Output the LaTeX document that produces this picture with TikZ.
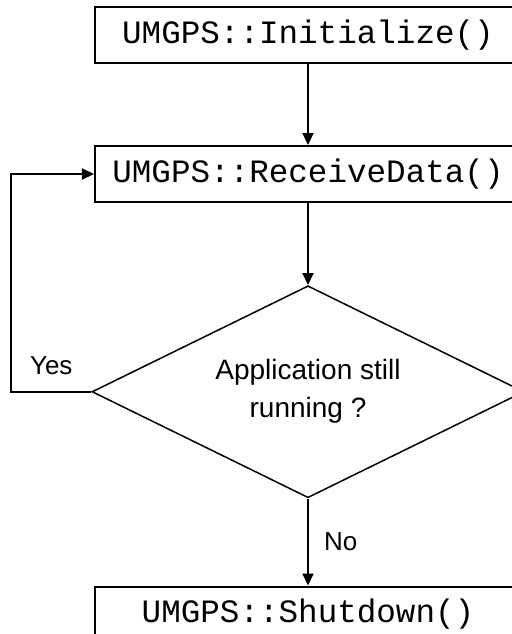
\documentclass[tikz,border=0pt]{standalone}
\usepackage{fontspec}
\setmainfont{Liberation Sans}
\setmonofont{Liberation Mono}
\usetikzlibrary{arrows.meta,positioning,shapes.geometric}
\tikzset{
  proc/.style={draw,line width=1pt,minimum width=213pt,minimum height=28pt,%
    inner sep=0pt,font=\fontsize{16.3}{19}\selectfont\ttfamily},
  decide/.style={draw,diamond,aspect=2.04,line width=0.75pt,minimum width=216pt,%
    minimum height=106pt,inner sep=0pt,align=center,font=\fontsize{14}{19}\selectfont},
  flow/.style={-{Triangle[length=6pt,width=5.5pt]},line width=1pt},
  lbl/.style={font=\fontsize{13}{15}\selectfont,inner sep=0pt},
}
\begin{document}
\begin{tikzpicture}[node distance=41pt]
\useasboundingbox (0,0) rectangle (256pt,-317pt);
\clip (0,0) rectangle (256pt,-317pt);
\node[proc] (init) at (154pt,-17.5pt) {UMGPS::Initialize()};
\node[proc,below=40.5pt of init] (recv) {UMGPS::ReceiveData()};
\node[decide,below=41pt of recv] (run) {Application still\\running ?};
\node[proc,below=43.5pt of run] (shut) {UMGPS::Shutdown()};
\coordinate[left=40pt of run.west] (back);
\draw[flow] (init) -- (recv);
\draw[flow] (recv) -- (run);
\draw[flow] (run) -- node[lbl,right=7.5pt]{No} (shut);
\draw[flow] (run.west) -- node[lbl,above=8pt]{Yes} (back) |- (recv.west);
\end{tikzpicture}
\end{document}
